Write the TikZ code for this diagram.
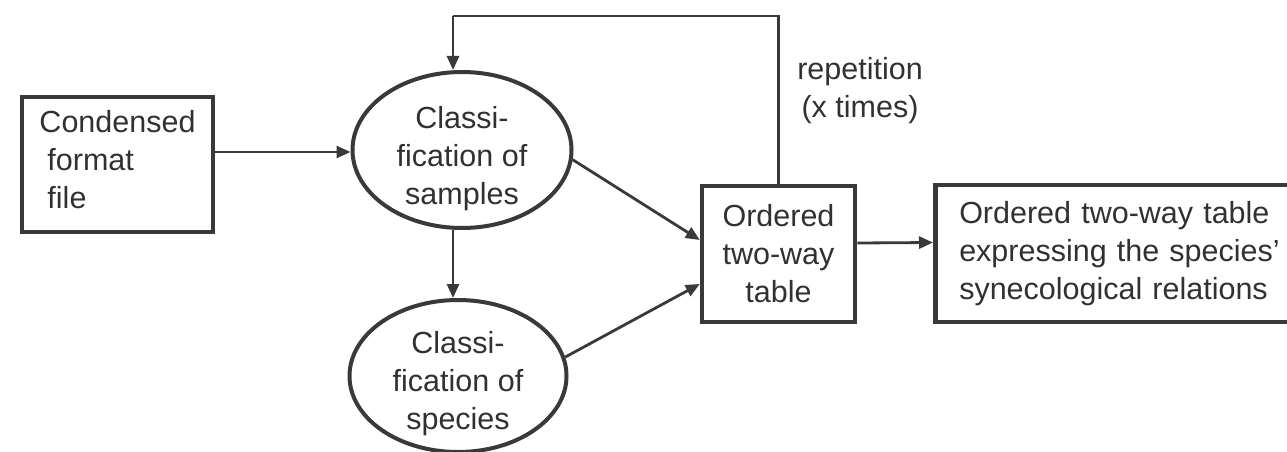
\documentclass[tikz,border=0pt]{standalone}
\usepackage{fontspec}
\setmainfont{Liberation Sans}
\usetikzlibrary{shapes.geometric,arrows.meta,calc}
\definecolor{ink}{RGB}{55,58,55}
\definecolor{txt}{RGB}{48,50,48}
\begin{document}
\begin{tikzpicture}[x=1pt,y=-1pt,
  font=\fontsize{30.5}{38}\selectfont,
  every node/.style={text=txt},
  boxnode/.style={draw=ink,line width=4.5pt,rectangle,inner sep=0pt},
  ovalnode/.style={draw=ink,line width=4pt,ellipse,inner xsep=0pt,inner ysep=-16pt,align=center},
  link/.style={draw=ink,line width=2.8pt,-{Triangle[length=14pt,width=12pt]}},
  plain/.style={draw=ink,line width=2.8pt}]
\useasboundingbox (0,0) rectangle (1287,452);
\clip (0,0) rectangle (1287,452);

% input file
\node[boxnode,minimum width=191pt,minimum height=135pt,align=left] (input) at (117.5,164.5)
  {Condensed\\\hspace{8pt}format\\\hspace{8pt}file\rule[-11pt]{0pt}{0pt}};

% the two classifications
\node[ovalnode,minimum width=219pt,minimum height=156pt] (samples) at (462,150)
  {\rule{0pt}{40pt}Classi-\\fication of\\samples};
\node[ovalnode,minimum width=217pt,minimum height=152pt] (species) at (458,376)
  {\rule{0pt}{38pt}Classi-\\fication of\\species};

% ordered tables
\node[boxnode,minimum width=153pt,minimum height=136pt,align=center] (ordered) at (778.5,254)
  {Ordered\\two-way\\table};
\node[boxnode,minimum width=420pt,minimum height=137pt,anchor=west,align=left,
  text width=372pt,inner xsep=24pt] (final) at (933,253.5)
  {Ordered two-way table\\expressing the species'\\synecological relations};

% loop label
\node[align=center] (rep) at (860,91) {repetition\\(x times)};

\coordinate (col) at (453,16);

% connectors
\draw[link] (input.east |- 0,152) -- (samples.west |- 0,152);
\draw[link] (samples.south -| col) -- (species.north -| col);
\draw[link] (samples.-5) -- ([yshift=14pt]ordered.west);
\draw[link] (species.10) -- ([yshift=-30pt]ordered.west);
\draw[link] ([yshift=11pt]ordered.east) -- ([yshift=11pt]final.west);
\draw[plain] (ordered.north) |- (col);
\draw[link] (col) -- (samples.north -| col);
\end{tikzpicture}
\end{document}
